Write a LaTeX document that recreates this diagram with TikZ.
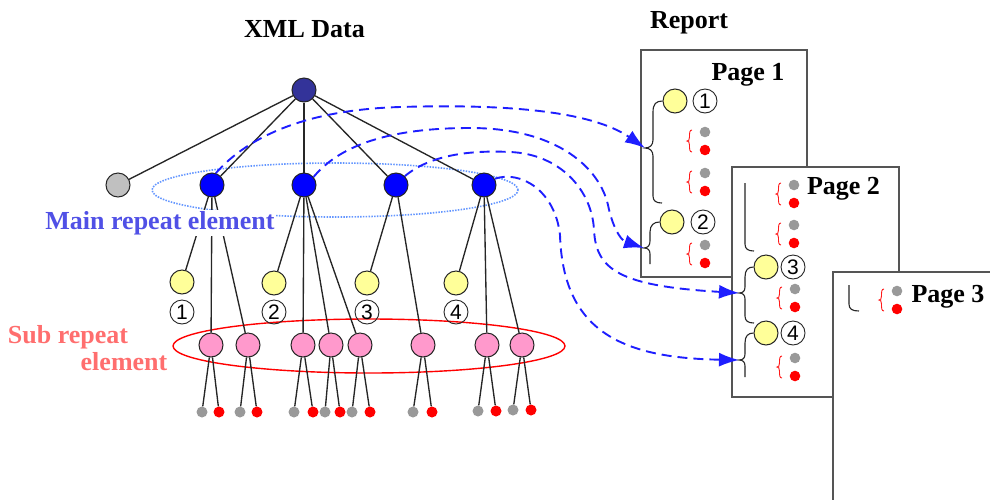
\documentclass[tikz,border=0pt]{standalone}
\usepackage{fontspec}
\setmainfont{Liberation Serif}
\newfontfamily\numfont{Liberation Sans}
\usetikzlibrary{arrows.meta}

\definecolor{rootblue}{RGB}{51,51,153}
\definecolor{elemblue}{RGB}{0,0,255}
\definecolor{attrgray}{RGB}{192,192,192}
\definecolor{grpyellow}{RGB}{255,255,153}
\definecolor{subpink}{RGB}{255,153,204}
\definecolor{leafgray}{RGB}{153,153,153}
\definecolor{mainlabel}{RGB}{80,80,230}
\definecolor{sublabel}{RGB}{255,110,110}
\definecolor{ringblue}{RGB}{100,150,255}
\definecolor{flowblue}{RGB}{30,30,255}
\definecolor{pagegray}{RGB}{85,85,85}

\tikzset{
  redgroup/.pic={
    \draw[red!90,line width=0.9pt]
      (3,-11) .. controls (0.5,-11) and (0.5,-8) .. (0.5,-4)
      .. controls (0.5,-1) and (-0.5,0) .. (-2,0)
      .. controls (-0.5,0) and (0.5,1) .. (0.5,4)
      .. controls (0.5,8) and (0.5,11) .. (3,11);
    \fill[leafgray] (16,-9) circle (5.3pt);
    \fill[red] (16,9) circle (5.3pt);
  }
}

\begin{document}
\begin{tikzpicture}[x=1pt,y=-1pt,
  every node/.style={inner sep=0pt},
  dot/.style={circle,draw=black!85,line width=1pt,minimum size=24pt},
  rootnode/.style={dot,fill=rootblue},
  attrnode/.style={dot,fill=attrgray},
  elemnode/.style={dot,fill=elemblue},
  grpnode/.style={dot,fill=grpyellow},
  subnode/.style={dot,fill=subpink},
  leafg/.style={circle,fill=leafgray,minimum size=11pt},
  leafr/.style={circle,fill=red,minimum size=11pt},
  num/.style={circle,draw=black!85,line width=0.9pt,minimum size=24pt,
    font=\numfont\fontsize{21}{21}\selectfont},
  title/.style={anchor=base,font=\fontsize{26}{30}\selectfont\bfseries},
  edge/.style={draw=black!85,line width=1.35pt},
  flow/.style={draw=flowblue,line width=1.9pt,dash pattern=on 10pt off 6pt,
    -{Latex[length=20pt,width=14pt]}},
  page/.style={draw=pagegray,line width=1.9pt,fill=white},
  bracket/.style={draw=black!85,line width=1.1pt},
]
\useasboundingbox (0,0) rectangle (990,499);
\clip (0,0) rectangle (990,499);

% grouping rings
\draw[ringblue,line width=1.6pt,dash pattern=on 1.5pt off 1.3pt]
  (335,190) ellipse [x radius=183pt,y radius=27pt];
\draw[red,line width=1.4pt] (369,346) ellipse [x radius=196pt,y radius=27pt];

% tree nodes
\node[rootnode] (r) at (304,90) {};
\node[attrnode] (g) at (118,185) {};
\node[elemnode] (b1) at (212,185) {};
\node[elemnode] (b2) at (304,185) {};
\node[elemnode] (b3) at (396,185) {};
\node[elemnode] (b4) at (484,185) {};

\node[grpnode] (y1) at (182,282) {};
\node[grpnode] (y2) at (274,283) {};
\node[grpnode] (y3) at (367,283) {};
\node[grpnode] (y4) at (456,283) {};
\node[num] (n1) at (182,312) {1};
\node[num] (n2) at (274,312) {2};
\node[num] (n3) at (367,312) {3};
\node[num] (n4) at (456,312) {4};

\foreach \i/\px in {1/211,2/248,3/303,4/331,5/360,6/423,7/487,8/522}
  \node[subnode] (p\i) at (\px,345) {};

% upper edges
\foreach \b in {g,b1,b2,b3,b4} \draw[edge] (r) -- (\b);
\draw[edge] (b1) -- (y1); \draw[edge] (b1) -- (p1); \draw[edge] (b1) -- (p2);
\draw[edge] (b2) -- (y2); \draw[edge] (b2) -- (p3); \draw[edge] (b2) -- (p4);
\draw[edge] (b2) -- (p5);
\draw[edge] (b3) -- (y3); \draw[edge] (b3) -- (p6);
\draw[edge] (b4) -- (y4); \draw[edge] (b4) -- (p7); \draw[edge] (b4) -- (p8);

% leaves
\foreach \i/\gx/\rx/\yy in {1/202/219/412,2/240/257/412,3/294/313/412,
    4/325/340/412,5/352/370/412,6/413/432/412,7/478/496/411,8/513/531/410}{
  \node[leafg] (lg\i) at (\gx,\yy) {};
  \node[leafr] (lr\i) at (\rx,\yy) {};
  \draw[edge] (p\i) -- (lg\i);
  \draw[edge] (p\i) -- (lr\i);
}

% labels
\node[title] (xml) at (304.5,37) {XML Data};
\node[title] (rep) at (689,28) {Report};
\node[title,text=mainlabel,fill=white,inner sep=1pt] (mainl) at (160,229) {Main repeat element};
\node[title,text=sublabel] (subl1) at (68,343) {Sub repeat};
\node[title,text=sublabel] (subl2) at (124,370) {element};

% page 1
\draw[page] (641,50) rectangle (807,277);
\node[title] (pg1) at (748,80) {Page 1};
\node[grpnode] (q1) at (675,101) {};
\node[num] (m1) at (705,101) {1};
\node[grpnode] (q2) at (672,222) {};
\node[num] (m2) at (703,222) {2};
\coordinate (t1) at (645,148);
\coordinate (t2) at (644,248);
\draw[bracket] (q1.west) .. controls (656,101) and (653,104) .. (653,112) -- (653,140)
  .. controls (653,145) and (650,148) .. (t1) .. controls (650,148) and (653,151) .. (653,156)
  -- (653,196) .. controls (653,201) and (656,203) .. (662,203);
\draw[bracket] (q2.west) .. controls (654,222) and (650,225) .. (650,232) -- (650,241)
  .. controls (650,245) and (648,248) .. (t2) .. controls (648,248) and (650,250) .. (650,254)
  -- (650,264);
\pic at (689,141) {redgroup};
\pic at (689,182) {redgroup};
\pic at (689,254) {redgroup};

% page 2
\draw[page] (732,167) rectangle (899,397);
\node[title] (pg2) at (843.5,194) {Page 2};
\node[grpnode] (q3) at (766,267) {};
\node[num] (m3) at (793,267) {3};
\node[grpnode] (q4) at (766,333) {};
\node[num] (m4) at (793,333) {4};
\coordinate (t3) at (739,293);
\coordinate (t4) at (739,360);
\draw[bracket] (745,183) -- (745,244) .. controls (745,249) and (748,251) .. (754,251);
\draw[bracket] (q3.west) .. controls (748,267) and (745,270) .. (745,277) -- (745,287)
  .. controls (745,291) and (743,293) .. (t3) .. controls (743,293) and (745,295) .. (745,299)
  -- (745,316) .. controls (745,321) and (748,323) .. (754,323);
\draw[bracket] (q4.west) .. controls (748,333) and (745,336) .. (745,343) -- (745,354)
  .. controls (745,358) and (743,360) .. (t4) .. controls (743,360) and (745,362) .. (745,366)
  -- (745,377);
\pic at (778,194) {redgroup};
\pic at (778,234) {redgroup};
\pic at (779,298) {redgroup};
\pic at (779,367) {redgroup};

% page 3
\draw[page] (833,272) rectangle (1010,520);
\node[title] (pg3) at (948,302) {Page 3};
\draw[bracket] (849,285) -- (849,304) .. controls (849,309) and (852,311) .. (859,311);
\pic at (881,300) {redgroup};

% mapping from repeat elements to report pages
\draw[flow] (b1.72) .. controls (245,140) and (300,110) .. (400,107)
  .. controls (500,104) and (590,110) .. (t1);
\draw[flow] (b2.40) .. controls (340,145) and (390,128) .. (470,128)
  .. controls (560,128) and (600,170) .. (608,205)
  .. controls (612,225) and (620,240) .. (t2);
\draw[flow] (b3.45) .. controls (430,155) and (470,150) .. (510,152)
  .. controls (560,154) and (592,190) .. (594,230)
  .. controls (596,270) and (620,286) .. (t3);
\draw[flow] (b4.30) .. controls (520,170) and (555,190) .. (560,235)
  .. controls (563,330) and (620,358) .. (t4);
\end{tikzpicture}
\end{document}
